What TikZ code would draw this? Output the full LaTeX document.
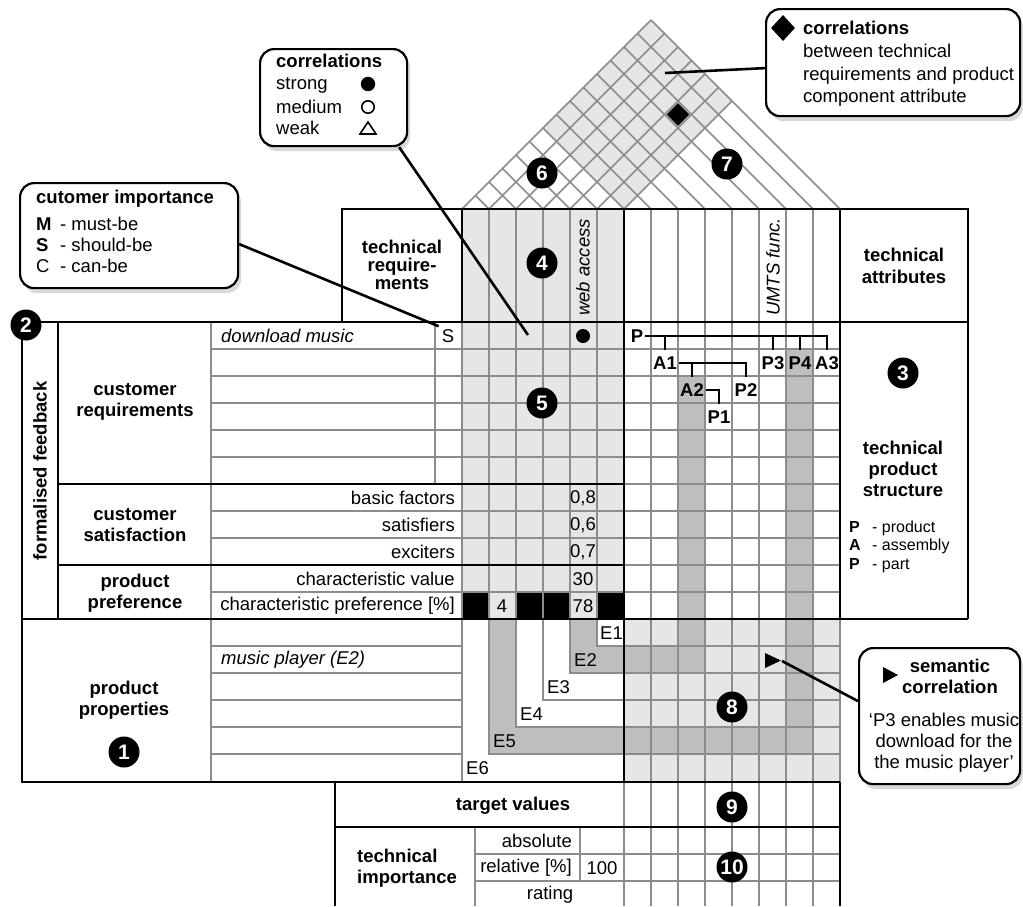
\documentclass[tikz,border=0pt]{standalone}
\usepackage{fontspec}
\setmainfont{Liberation Sans}
\usetikzlibrary{shadows,shapes.geometric}

\definecolor{gridgray}{HTML}{8C8C8C}
\definecolor{lightfill}{HTML}{E6E6E6}
\definecolor{bandfill}{HTML}{BEBEBE}

\newcommand{\qfdfont}{\fontsize{18.5}{21}\selectfont}
\newcommand{\legendfont}{\fontsize{16}{18.5}\selectfont}

\tikzset{
  gridline/.style={draw=gridgray, line width=1.6pt},
  frame/.style={draw=black, line width=2.2pt},
  heading/.style={font=\qfdfont\bfseries, align=center, inner sep=0pt},
  entry/.style={font=\qfdfont, inner sep=0pt},
  marker/.style={circle, fill=black, text=white, inner sep=0pt, minimum size=31pt,
    font=\fontsize{21}{21}\selectfont\bfseries},
  partlbl/.style={font=\qfdfont\bfseries, inner xsep=1.5pt, inner ysep=6.5pt},
  tree/.style={line width=2.4pt},
  callout/.style={draw, line width=2.2pt, rounded corners=14pt, fill=white,
    drop shadow={shadow xshift=3pt, shadow yshift=-5pt, opacity=0.3}},
  pointer/.style={line width=2.6pt},
}

\begin{document}
\begin{tikzpicture}[x=1pt, y=-1pt]
  \useasboundingbox (0,0) rectangle (1023,906);

  % shaded areas
  \fill[lightfill] (624,209) -- (732,101) -- (651,20) -- (543,128) -- cycle;
  \fill[lightfill] (462,209) rectangle (624,619);
  \fill[lightfill] (624,619) rectangle (840,782);
  \fill[bandfill] (570,619) -- (597,619) -- (597,646) -- (678,646) -- (678,376)
    -- (705,376) -- (705,673) -- (570,673) -- cycle;
  \fill[bandfill] (489,619) -- (516,619) -- (516,727) -- (786,727) -- (786,349)
    -- (813,349) -- (813,754) -- (489,754) -- cycle;
  \foreach \x in {462,516,543,597} \fill (\x,592) rectangle +(27,27);

  % roof
  \foreach \k in {0,...,6} {
    \pgfmathsetmacro{\xb}{462+27*\k}
    \draw[gridline] (\xb,209) -- ({(\xb+840)/2},{209-(840-\xb)/2});
  }
  \foreach \k in {1,...,14} {
    \pgfmathsetmacro{\xb}{462+27*\k}
    \draw[gridline] (\xb,209) -- ({(\xb+462)/2},{209-(\xb-462)/2});
  }
  \node[diamond, fill=black, inner sep=0pt, minimum size=23pt] (roofmark) at (678,114.5) {};

  % grid
  \foreach \x in {489,516,...,597} \draw[gridline] (\x,209) -- (\x,619);
  \foreach \x in {651,678,...,813} \draw[gridline] (\x,209) -- (\x,906);
  \draw[gridline] (840,619) -- (840,782);
  \foreach \y in {349,376,...,592} \draw[gridline] (211,\y) -- (840,\y);
  \foreach \y in {646,673,...,754} {
    \draw[gridline] (624,\y) -- (840,\y);
    \draw[gridline] (211,\y) -- (462,\y);
  }
  \foreach \y in {854,881} \draw[gridline] (475,\y) -- (840,\y);
  \draw[gridline] (211,322) -- (211,782);
  \draw[gridline] (435,322) -- (435,484);
  \draw[gridline] (462,322) -- (462,782);
  \draw[gridline] (475,827) -- (475,906);
  \draw[gridline] (580,827) -- (580,881);
  \draw[gridline] (624,782) -- (624,906);
  \foreach \x/\y in {597/646,570/673,543/700,516/727,489/754}
    \draw[gridline] (\x,619) -- (\x,\y) -- (624,\y);

  % frames
  \draw[frame] (342,322) -- (342,209) -- (968,209) -- (968,619);
  \draw[frame] (462,209) -- (462,322);
  \draw[frame] (624,209) -- (624,782);
  \draw[frame] (840,209) -- (840,619);
  \draw[frame] (22,322) -- (968,322);
  \draw[frame] (22,619) -- (968,619);
  \draw[frame] (22,322) -- (22,782) -- (840,782);
  \draw[frame] (58,322) -- (58,619);
  \draw[frame] (58,484) -- (624,484);
  \draw[frame] (58,565) -- (624,565);
  \draw[frame] (335,906) -- (335,782);
  \draw[frame] (335,827) -- (840,827);
  \draw[frame] (840,782) -- (840,906);

  % headings
  \node[heading, font=\fontsize{18.5}{18}\selectfont\bfseries] (hTechReq) at (402,265) {technical\\require-\\ments};
  \node[heading, font=\fontsize{18.5}{22}\selectfont\bfseries] (hTechAttr) at (904,266) {technical\\attributes};
  \node[heading, rotate=90] (hFeedback) at (40,471) {formalised feedback};
  \node[heading] (hCustReq) at (135,402) {customer\\requirements};
  \node[heading] (hCustSat) at (135,525) {customer\\satisfaction};
  \node[heading] (hPrefer) at (135,593) {product\\preference};
  \node[heading] (hProps) at (124,700) {product\\properties};
  \node[heading] (hStruct) at (903,469) {technical\\product\\structure};
  \node[heading] (hTarget) at (513,806) {target values};
  \node[heading, anchor=west, align=left] (hImport) at (357,868) {technical\\importance};

  % rotated attribute names
  \node[entry, font=\qfdfont\itshape, rotate=90, anchor=west] (tWeb) at (583,316) {web access};
  \node[entry, font=\qfdfont\itshape, rotate=90, anchor=west] (tUmts) at (773,316) {UMTS func.};

  % row texts
  \node[entry, font=\qfdfont\itshape, anchor=west] (rMusic) at (221,336) {download music};
  \node[entry, inner sep=3pt] (sS) at (448,336) {S};
  \node[entry, anchor=east] (rBasic) at (455,498) {basic factors};
  \node[entry, anchor=east] (rSatis) at (455,525) {satisfiers};
  \node[entry, anchor=east] (rExcit) at (455,552) {exciters};
  \node[entry, anchor=east] (rCharVal) at (455,579) {characteristic value};
  \node[entry, anchor=east] (rCharPref) at (455,606) {characteristic preference [\%]};
  \node[entry, font=\qfdfont\itshape, anchor=west] (rPlayer) at (221,660) {music player (E2)};
  \node[entry, anchor=east] (rAbs) at (572,841) {absolute};
  \node[entry, anchor=east] (rRel) at (572,868) {relative [\%]};
  \node[entry] (rRating) at (550,895) {rating};

  % values
  \node[entry] (v1) at (583,498) {0,8};
  \node[entry] (v2) at (583,525) {0,6};
  \node[entry] (v3) at (583,552) {0,7};
  \node[entry] (v4) at (583,579) {30};
  \node[entry] (v5) at (583,606) {78};
  \node[entry] (v6) at (502,606) {4};
  \node[entry] (v7) at (602,868) {100};
  \fill (583,336) circle (7);

  % E levels
  \foreach \n/\x/\y in {1/600/633,2/574/660,3/547/687,4/520/714,5/493/741,6/466/768}
    \node[entry, anchor=west] (e\n) at (\x,\y) {E\n};

  % product structure
  \node[partlbl] (tP) at (637,336) {P};
  \node[partlbl] (tA1) at (665,363) {A1};
  \node[partlbl] (tP3) at (773,363) {P3};
  \node[partlbl] (tP4) at (800,363) {P4};
  \node[partlbl] (tA3) at (827,363) {A3};
  \node[partlbl] (tA2) at (692,390) {A2};
  \node[partlbl] (tP2) at (746,390) {P2};
  \node[partlbl] (tP1) at (719,417) {P1};
  \draw[tree] (tP.east) -| (tA3.north);
  \foreach \n in {tA1,tP3,tP4} \draw[tree] (\n.north) -- (\n.north |- tP.east);
  \draw[tree] (tA1.east) -| (tP2.north);
  \draw[tree] (tA2.north) -- (tA2.north |- tA1.east);
  \draw[tree] (tA2.east) -| (tP1.north);

  \node[anchor=north west, inner sep=0pt, font=\legendfont] (structKey) at (849,519)
    {\begin{tabular}{@{}p{23pt}@{}l@{}}
      \textbf{P} & - product\\
      \textbf{A} & - assembly\\
      \textbf{P} & - part
    \end{tabular}};

  % semantic correlation mark
  \fill (765,653) -- (781,660.5) -- (765,668) -- cycle;
  \coordinate (semtip) at (782,661);

  % numbers
  \node[marker] (m1) at (124,752) {1};
  \node[marker] (m2) at (26,325) {2};
  \node[marker] (m3) at (903,373) {3};
  \node[marker] (m4) at (542,263) {4};
  \node[marker] (m5) at (542,403) {5};
  \node[marker] (m6) at (542,173) {6};
  \node[marker] (m7) at (727,164) {7};
  \node[marker] (m8) at (732,707) {8};
  \node[marker] (m9) at (732,807) {9};
  \node[marker] (m10) at (732,867) {10};

  % callouts
  \coordinate (corrpt) at (528,335);
  \coordinate (roofpt) at (665,73);
  \node[callout, anchor=north west, minimum width=218pt, minimum height=105pt] (impbox) at (19,182) {};
  \node[callout, anchor=north west, minimum width=147pt, minimum height=97pt] (corrbox) at (259,48) {};
  \node[callout, anchor=north west, minimum width=254pt, minimum height=107pt] (topbox) at (765,8) {};
  \node[callout, anchor=north west, minimum width=161pt, minimum height=136pt] (sembox) at (858,647) {};
  \draw[pointer] ([yshift=-8.5pt]impbox.east) -- (sS.north west);
  \draw[pointer] ([xshift=-9pt]corrbox.south east) -- (corrpt);
  \draw[pointer] ([yshift=-5.5pt]topbox.west) -- (roofpt);
  \draw[pointer] ([yshift=15pt]sembox.west) -- (semtip);

  % customer importance
  \node[heading, anchor=west] (impTitle) at (36,199) {cutomer importance};
  \node[anchor=north west, inner sep=0pt, font=\qfdfont] (impKey) at (36,216)
    {\begin{tabular}{@{}p{24pt}@{}l@{}}
      \textbf{M} & - must-be\\
      \textbf{S} & - should-be\\
      C & - can-be
    \end{tabular}};

  % correlation legend
  \node[heading, anchor=west] (corrTitle) at (276,61) {correlations};
  \node[entry, anchor=west] (cStrong) at (276,85) {strong};
  \node[entry, anchor=west] (cMedium) at (276,107) {medium};
  \node[entry, anchor=west] (cWeak) at (276,128) {weak};
  \fill (368,84) circle (7.2);
  \draw[line width=1.6pt] (368,107) circle (6.2);
  \draw[line width=1.6pt, line join=miter] (360,134) -- (376,134) -- (368,122) -- cycle;

  % roof correlations
  \node[diamond, fill=black, inner sep=0pt, minimum width=24pt, minimum height=26pt] (topmark) at (783,28) {};
  \node[heading, anchor=west] (topTitle) at (803,28) {correlations};
  \node[entry, anchor=north west, align=left, font=\fontsize{18.5}{22.5}\selectfont] (topText) at (803,44)
    {between technical\\requirements and product\\component attribute};

  % semantic correlation
  \fill (883,667) -- (898,675) -- (883,683) -- cycle;
  \node[heading] (semTitle) at (950,676) {semantic\\correlation};
  \node[entry, align=center] (semText) at (944,743)
    {‘P3 enables music\\download for the\\the music player’};
\end{tikzpicture}
\end{document}
